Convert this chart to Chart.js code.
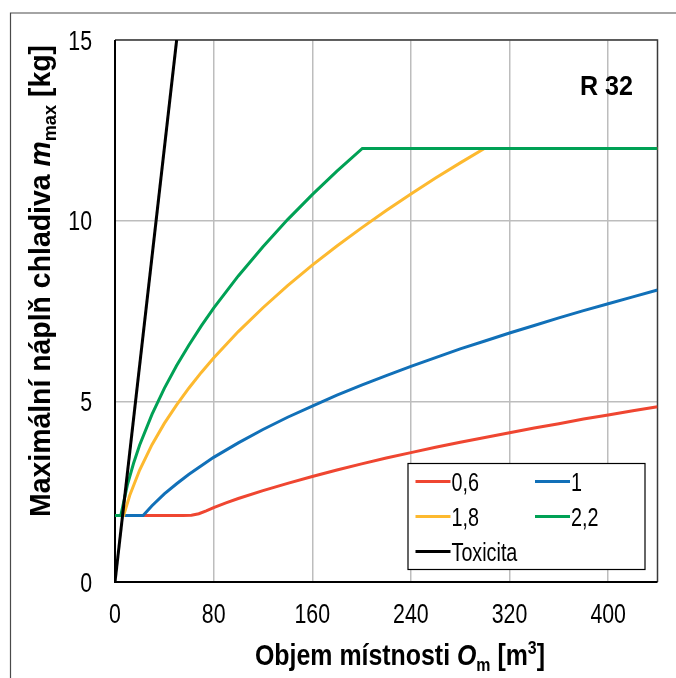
<!DOCTYPE html>
<html>
<head>
<meta charset="utf-8">
<script src="https://cdn.jsdelivr.net/npm/chart.js@4.4.1/dist/chart.umd.min.js"></script>
<style>
html,body{margin:0;padding:0;background:#fff;}
canvas{display:block;}
</style>
</head>
<body>
<canvas id="c" width="676" height="678"></canvas>
<script>
// ---- data ----
const xTicks = [0, 80, 160, 240, 320, 400];
const yTicks = [0, 5, 10, 15];
const seriesNames = ['0,6', '1', '1,8', '2,2', 'Toxicita'];

const redX = [0, 55, 62, 68, 74, 80, 90, 100, 120, 140, 160, 180, 200, 220, 240, 260, 280, 300, 320, 340, 360, 380, 400, 420, 440];
const redY = [1.84, 1.84, 1.85, 1.89, 1.97, 2.06, 2.19, 2.31, 2.53, 2.73, 2.92, 3.10, 3.27, 3.43, 3.58, 3.73, 3.87, 4.00, 4.13, 4.26, 4.38, 4.51, 4.62, 4.74, 4.85];

const blueX = [0, 22.8, 30, 40, 50, 60, 80, 100, 120, 140, 160, 180, 200, 220, 240, 260, 280, 300, 320, 340, 360, 380, 400, 420, 440];
const blueY = [1.84, 1.84, 2.11, 2.44, 2.72, 2.98, 3.45, 3.85, 4.22, 4.56, 4.87, 5.17, 5.45, 5.71, 5.97, 6.21, 6.45, 6.67, 6.89, 7.10, 7.31, 7.51, 7.70, 7.89, 8.08];

const yellowX = [0, 7, 12, 20, 30, 40, 50, 60, 70, 80, 100, 120, 140, 160, 180, 200, 220, 240, 260, 280, 299.6, 440];
const yellowY = [1.84, 1.84, 2.40, 3.10, 3.80, 4.39, 4.90, 5.37, 5.80, 6.20, 6.93, 7.59, 8.20, 8.77, 9.30, 9.80, 10.28, 10.74, 11.18, 11.60, 12.0, 12.0];

const greenX = [0, 4.7, 10, 15, 20, 30, 40, 50, 60, 70, 80, 100, 120, 140, 160, 180, 200.6, 440];
const greenY = [1.84, 1.84, 2.68, 3.28, 3.79, 4.64, 5.36, 5.99, 6.56, 7.09, 7.58, 8.47, 9.28, 10.03, 10.72, 11.37, 12.0, 12.0];

const toxX = [0, 50];
const toxY = [0, 15];

const colors = ['#EF4631', '#1170B8', '#FDB92F', '#00A155', '#000000'];

// ---- helpers ----
function pts(xs, ys) { return xs.map((x, i) => ({ x: x, y: ys[i] })); }

function hasFont(name) {
  const c = document.createElement('canvas').getContext('2d');
  const s = 'abcdefghijklmnopqrstuvwxyz0123456789';
  c.font = '40px monospace'; const a = c.measureText(s).width;
  c.font = '40px "' + name + '", monospace'; const b = c.measureText(s).width;
  return a !== b;
}
const NARROW = hasFont('Liberation Sans Narrow');
const FAM = NARROW ? '"Liberation Sans Narrow", "Liberation Sans", Arial, sans-serif' : '"Liberation Sans", Arial, sans-serif';
const SX = NARROW ? 0.97 : 0.79;

function fmt(v) { return String(v).replace('.', ','); }

function drawRich(ctx, runs, o) {
  const size = o.size;
  let W = 0;
  const meas = runs.map(r => {
    const fs = (r.sub || r.sup) ? size * 0.64 : size;
    const f = (r.italic ? 'italic ' : '') + (r.bold ? 'bold ' : '') + fs + 'px ' + FAM;
    ctx.font = f;
    const w = ctx.measureText(r.t).width;
    W += w;
    return { f: f, w: w, r: r };
  });
  const sx = o.targetWidth ? o.targetWidth / W : SX;
  ctx.save();
  ctx.translate(o.x, o.y);
  if (o.rotate) ctx.rotate(o.rotate);
  ctx.scale(sx, 1);
  let x0 = o.align === 'center' ? -W / 2 : (o.align === 'right' ? -W : 0);
  ctx.fillStyle = o.color || '#000';
  ctx.textBaseline = 'alphabetic';
  ctx.textAlign = 'left';
  for (const m of meas) {
    ctx.font = m.f;
    let dy = 0;
    if (m.r.sub) dy = size * 0.2;
    if (m.r.sup) dy = -size * 0.36;
    ctx.fillText(m.r.t, x0, dy);
    x0 += m.w;
  }
  ctx.restore();
}

const framePlugin = {
  id: 'frame',
  beforeDatasetsDraw(chart) {
    const ctx = chart.ctx, a = chart.chartArea;
    ctx.save();
    ctx.strokeStyle = '#3a3a3a';
    ctx.lineWidth = 1.5;
    ctx.beginPath();
    ctx.moveTo(a.left, a.top); ctx.lineTo(a.right, a.top); ctx.lineTo(a.right, a.bottom);
    ctx.stroke();
    ctx.strokeStyle = '#000';
    ctx.lineWidth = 2;
    ctx.beginPath();
    ctx.moveTo(a.left, a.top); ctx.lineTo(a.left, a.bottom); ctx.lineTo(a.right, a.bottom);
    ctx.stroke();
    ctx.restore();
  },
  afterDraw(chart) {
    const ctx = chart.ctx, a = chart.chartArea;
    const xs = chart.scales.x, ys = chart.scales.y;

    // tick labels, positioned by the chart's own scales
    xs.ticks.forEach(t => {
      drawRich(ctx, [{ t: fmt(t.value) }], { x: xs.getPixelForValue(t.value), y: a.bottom + 40.5, size: 27, align: 'center' });
    });
    ys.ticks.forEach(t => {
      drawRich(ctx, [{ t: fmt(t.value) }], { x: a.left - 23, y: ys.getPixelForValue(t.value) + 9.7, size: 27, align: 'right' });
    });

    // outer border (top + left)
    ctx.save();
    ctx.strokeStyle = '#4a4a4a';
    ctx.lineWidth = 1.2;
    ctx.beginPath();
    ctx.moveTo(10.5, 678); ctx.lineTo(10.5, 13); ctx.lineTo(676, 13);
    ctx.stroke();
    ctx.restore();

    // legend
    const L = { x: 408, y: 463.5, w: 237, h: 106 };
    ctx.save();
    ctx.fillStyle = '#fff';
    ctx.fillRect(L.x, L.y, L.w, L.h);
    ctx.strokeStyle = '#000';
    ctx.lineWidth = 1.2;
    ctx.strokeRect(L.x, L.y, L.w, L.h);
    const cols = [415.5, 535];
    const rows = [481.5, 516.5, 551.5];
    chart.data.datasets.forEach((ds, i) => {
      const cx = cols[i % 2], cy = rows[Math.floor(i / 2)];
      ctx.strokeStyle = ds.borderColor;
      ctx.lineWidth = 3;
      ctx.beginPath();
      ctx.moveTo(cx, cy); ctx.lineTo(cx + 35, cy);
      ctx.stroke();
      drawRich(ctx, [{ t: ds.label }], { x: cx + 36, y: cy + 9, size: 25, align: 'left' });
    });
    ctx.restore();

    // R 32
    drawRich(ctx, [{ t: 'R 32', bold: true }], { x: 633, y: 95, size: 28, align: 'right', targetWidth: 53 });

    // x title
    drawRich(ctx, [
      { t: 'Objem místnosti ', bold: true },
      { t: 'O', bold: true, italic: true },
      { t: 'm', bold: true, sub: true },
      { t: ' [m', bold: true },
      { t: '3', bold: true, sup: true },
      { t: ']', bold: true }
    ], { x: 400, y: 665, size: 30, align: 'center', targetWidth: 290 });

    // y title
    drawRich(ctx, [
      { t: 'Maximální náplň chladiva ', bold: true },
      { t: 'm', bold: true, italic: true },
      { t: 'max', bold: true, sub: true },
      { t: ' [kg]', bold: true }
    ], { x: 50, y: 281, size: 30, align: 'center', rotate: -Math.PI / 2, targetWidth: 472 });
  }
};

const datasets = [
  [redX, redY], [blueX, blueY], [yellowX, yellowY], [greenX, greenY], [toxX, toxY]
].map((s, i) => ({
  label: seriesNames[i],
  data: pts(s[0], s[1]),
  borderColor: colors[i],
  backgroundColor: colors[i],
  borderWidth: 3,
  pointRadius: 0,
  showLine: true,
  tension: 0,
  fill: false,
  order: 4 - i
}));

new Chart(document.getElementById('c'), {
  type: 'scatter',
  data: { datasets: datasets },
  options: {
    responsive: false,
    devicePixelRatio: 1,
    animation: false,
    layout: { padding: { left: 0, top: 40, right: 18.5, bottom: 0 } },
    plugins: { legend: { display: false }, tooltip: { enabled: false } },
    scales: {
      x: {
        type: 'linear', min: 0, max: 440,
        afterBuildTicks: s => { s.ticks = xTicks.map(v => ({ value: v })); },
        afterFit: s => { s.height = 96; },
        grid: { color: '#bdbdbd', lineWidth: 1.5, drawTicks: false },
        border: { display: false },
        ticks: { display: false }
      },
      y: {
        type: 'linear', min: 0, max: 15,
        afterBuildTicks: s => { s.ticks = yTicks.map(v => ({ value: v })); },
        afterFit: s => { s.width = 115; },
        grid: { color: '#bdbdbd', lineWidth: 1.5, drawTicks: false },
        border: { display: false },
        ticks: { display: false }
      }
    }
  },
  plugins: [framePlugin]
});
</script>
</body>
</html>
